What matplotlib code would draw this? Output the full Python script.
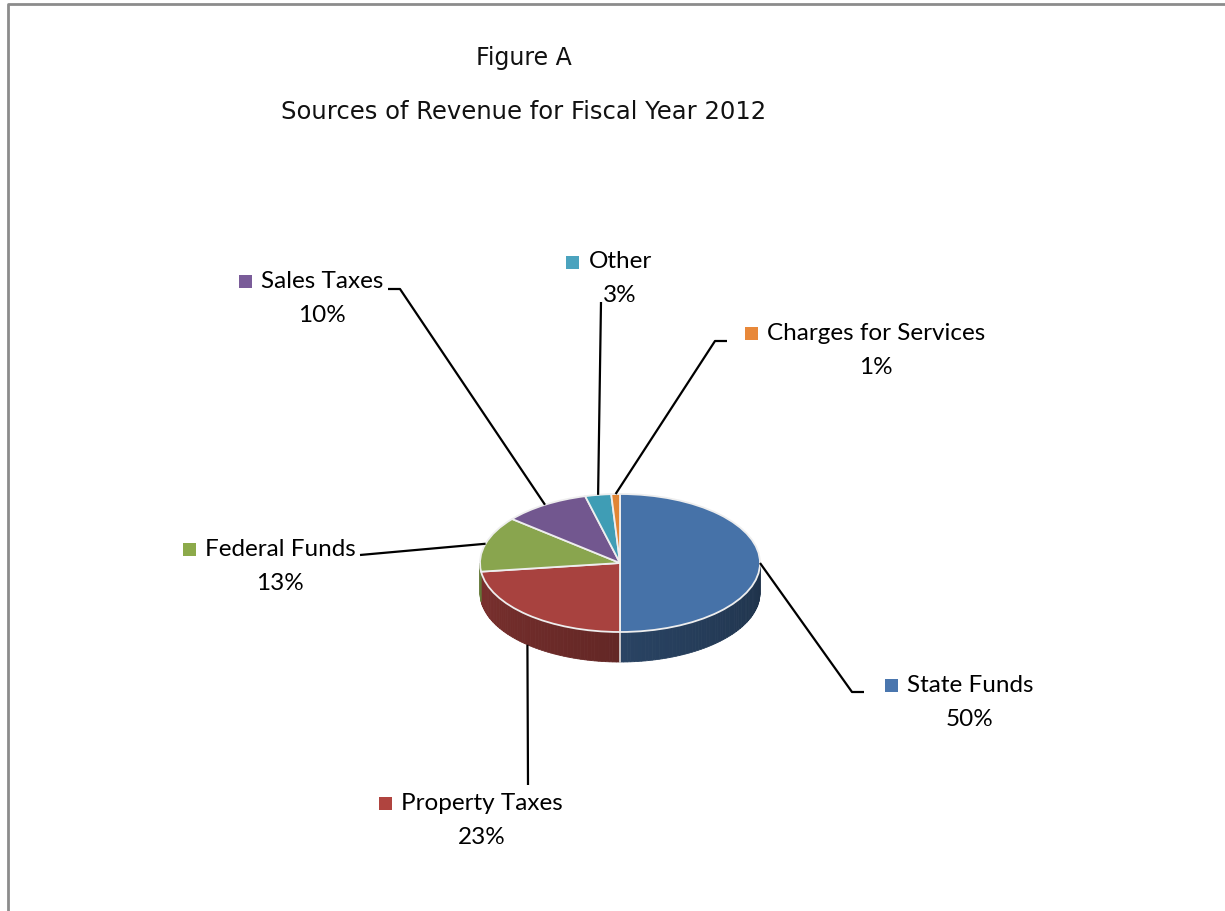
import numpy as np
import matplotlib
matplotlib.use("Agg")
import matplotlib.pyplot as plt
from matplotlib.transforms import Affine2D
from matplotlib.patches import Polygon, Rectangle
from matplotlib.colors import to_rgb

# data
categories = ["State Funds", "Property Taxes", "Federal Funds",
              "Sales Taxes", "Other", "Charges for Services"]
shares = [50, 23, 13, 10, 3, 1]

top_colors = ["#4672A8", "#A8423F", "#89A54E", "#72578F", "#3F9DB5", "#E08535"]
key_colors = ["#4A76AE", "#B0443F", "#8CAA4A", "#7A5C99", "#4BA3BE", "#E8883A"]

# label layout in pixels: name centre, then leader points from the label side
label_pos = [(970, 685), (482, 803), (280, 549), (322, 281), (620, 262), (876, 333)]
leader_pts = [
    [(864, 692), (852, 692)],
    [(528, 785)],
    [(360, 555)],
    [(388, 289), (400, 289)],
    [(601, 302)],
    [(727, 341), (715, 341)],
]

W, H = 1225, 911
CX, CY, RX, RY, DEPTH = 620, 563, 140, 69, 30

fig = plt.figure(figsize=(W / 100, H / 100), dpi=100)
ax = fig.add_axes([0, 0, 1, 1])

# frame
ax.plot([8, 8, W], [H, 4, 4], color="#8c8c8c", lw=2, solid_capstyle="butt")

# titles
ax.text(524, 58, "Figure A", ha="center", va="center", fontsize=17,
        family="DejaVu Sans", color="#111111")
ax.text(524, 112, "Sources of Revenue for Fiscal Year 2012", ha="center",
        va="center", fontsize=17.5, family="DejaVu Sans", color="#111111")

# top face of the pie, squashed into an ellipse
squash = Affine2D().scale(RX, -RY).translate(CX, CY) + ax.transData
wedges, _ = ax.pie(shares, startangle=90, counterclock=False, colors=top_colors,
                   radius=1, center=(0, 0), frame=True,
                   wedgeprops=dict(edgecolor="#eeeeee", linewidth=1.3))
ax.set_xlim(0, W)
ax.set_ylim(H, 0)
ax.set_aspect("auto")
ax.axis("off")
for w in wedges:
    w.set_transform(squash)
    w.set_zorder(3)

# side wall on the front half, shaded in thin strips
for w, col in zip(wedges, top_colors):
    base = np.array(to_rgb(col))
    for k in (-360, 0, 360):
        a = max(w.theta1 + k, -180)
        b = min(w.theta2 + k, 0)
        if b <= a:
            continue
        steps = np.linspace(a, b, max(2, int((b - a) / 1.5) + 2))
        for t0, t1 in zip(steps[:-1], steps[1:]):
            tm = np.radians((t0 + t1) / 2)
            f = 0.74 - 0.30 * (np.degrees(tm) + 180) / 180
            tt = np.radians(np.linspace(t0, t1, 4))
            xs = CX + RX * np.cos(tt)
            ys = CY - RY * np.sin(tt)
            poly = np.column_stack([np.r_[xs, xs[::-1]], np.r_[ys, ys[::-1] + DEPTH]])
            ax.add_patch(Polygon(poly, closed=True, facecolor=base * f,
                                 edgecolor=base * f, lw=0.6, zorder=2))
# seam between blue and red on the wall
ax.plot([CX, CX], [CY + RY, CY + RY + DEPTH], color="#dddddd", lw=1.2, zorder=2.5)

# labels and leader lines
for w, name, val, kc, (lx, ly), pts in zip(wedges, categories, shares, key_colors,
                                            label_pos, leader_pts):
    t = np.radians((w.theta1 + w.theta2) / 2)
    ax_x = CX + RX * np.cos(t)
    ax_y = CY - RY * np.sin(t) + (DEPTH if np.sin(t) < -0.5 else 0)
    px = [p[0] for p in pts] + [ax_x]
    py = [p[1] for p in pts] + [ax_y]
    ax.plot(px, py, color="black", lw=1.6, zorder=4, solid_capstyle="butt")

    txt = ax.text(lx, ly, name, ha="center", va="center", fontsize=17.5,
                  family="Lato", color="black", zorder=5)
    ax.text(lx, ly + 34, f"{val}%", ha="center", va="center", fontsize=17.5,
            family="Lato", color="black", zorder=5)
    fig.canvas.draw()
    bb = txt.get_window_extent().transformed(ax.transData.inverted())
    left = min(bb.x0, bb.x1)
    ax.add_patch(Rectangle((left - 22, ly - 6.5), 13, 13, facecolor=kc,
                           edgecolor="none", zorder=5))

fig.savefig("out.png", dpi=100)
